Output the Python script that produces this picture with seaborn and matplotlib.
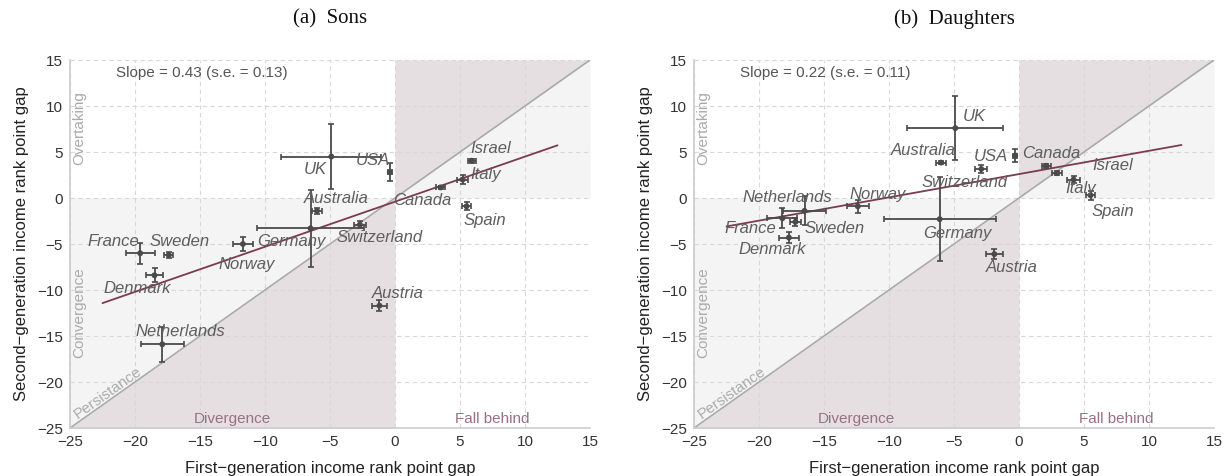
import numpy as np
import pandas as pd
import matplotlib
matplotlib.use("Agg")
import matplotlib.pyplot as plt
import seaborn as sns

# ---------------- data ----------------
countries = ["UK", "USA", "Israel", "Italy", "Canada", "Spain", "Australia",
             "Germany", "Switzerland", "Austria", "France", "Sweden",
             "Denmark", "Norway", "Netherlands"]

sons_x    = [-4.9, -0.4, 5.9, 5.2, 3.5, 5.5, -6.0, -6.5, -2.7, -1.2, -19.6, -17.4, -18.5, -11.7, -17.9]
sons_y    = [4.5, 2.8, 4.05, 2.0, 1.15, -0.9, -1.4, -3.3, -2.9, -11.7, -6.0, -6.2, -8.4, -5.0, -15.9]
sons_xerr = [3.85, 0.15, 0.3, 0.45, 0.35, 0.38, 0.35, 4.1, 0.45, 0.58, 1.1, 0.35, 0.67, 0.8, 1.64]
sons_yerr = [3.5, 1.0, 0.2, 0.5, 0.2, 0.45, 0.3, 4.2, 0.4, 0.6, 1.14, 0.3, 0.76, 0.8, 1.9]

dau_x    = [-4.9, -0.3, 2.9, 4.2, 2.1, 5.5, -6.0, -6.1, -2.9, -1.9, -18.2, -17.2, -17.7, -12.4, -16.5]
dau_y    = [7.6, 4.6, 2.7, 2.0, 3.5, 0.3, 3.85, -2.3, 3.15, -6.1, -2.2, -2.6, -4.3, -0.9, -1.4]
dau_xerr = [3.7, 0.15, 0.4, 0.47, 0.35, 0.32, 0.4, 4.3, 0.47, 0.64, 1.15, 0.4, 0.8, 0.85, 1.67]
dau_yerr = [3.5, 0.7, 0.2, 0.4, 0.2, 0.5, 0.2, 4.6, 0.45, 0.55, 1.1, 0.4, 0.63, 0.73, 1.58]

# fitted lines (intercept, slope) as drawn, over x range
sons_fit = (-0.4, 0.49)
dau_fit = (2.6, 0.253)
fit_range = (-22.5, 12.5)

slope_texts = ["Slope = 0.43 (s.e. = 0.13)", "Slope = 0.22 (s.e. = 0.11)"]
titles = ["(a)  Sons", "(b)  Daughters"]
x_ticks = [-25, -20, -15, -10, -5, 0, 5, 10, 15]
y_ticks = [-25, -20, -15, -10, -5, 0, 5, 10, 15]

# label positions (layout)
sons_lab = {"UK": (-6.15, 3.1), "USA": (-1.7, 4.05), "Israel": (7.4, 5.4),
            "Italy": (7.0, 2.5), "Canada": (2.1, -0.3), "Spain": (6.9, -2.45),
            "Australia": (-4.55, -0.1), "Germany": (-8.0, -4.75),
            "Switzerland": (-1.15, -4.25), "Austria": (0.2, -10.4),
            "France": (-21.7, -4.75), "Sweden": (-16.6, -4.75),
            "Denmark": (-19.8, -9.8), "Norway": (-11.4, -7.2),
            "Netherlands": (-16.5, -14.5)}
dau_lab = {"UK": (-3.45, 8.85), "USA": (-2.2, 4.55), "Israel": (7.2, 3.5),
           "Italy": (4.75, 1.05), "Canada": (2.5, 4.85), "Spain": (7.2, -1.5),
           "Australia": (-7.35, 5.2), "Germany": (-4.75, -3.85),
           "Switzerland": (-4.15, 1.65), "Austria": (-0.55, -7.6),
           "France": (-20.7, -3.3), "Sweden": (-14.2, -3.3),
           "Denmark": (-19.0, -5.65), "Norway": (-10.9, 0.35),
           "Netherlands": (-17.8, 0.0)}

# ---------------- style ----------------
sns.set_style("white")
plt.rcParams["font.family"] = ["Liberation Sans", "DejaVu Sans"]

LIGHT = "#f4f4f4"
MAUVE = "#e6dfe1"
REGION_GRAY = "#aaaaaa"
REGION_MAUVE = "#9b6f82"
PT = "#4a4a4a"
LAB = "#5e5e5e"
FIT = "#7b3b50"

fig = plt.figure(figsize=(12.24, 4.76), dpi=100)
positions = [[70 / 1224, 48 / 476, 520 / 1224, 368 / 476],
             [694 / 1224, 48 / 476, 520 / 1224, 368 / 476]]

panels = [(sons_x, sons_y, sons_xerr, sons_yerr, sons_fit, sons_lab),
          (dau_x, dau_y, dau_xerr, dau_yerr, dau_fit, dau_lab)]

for i, (xs, ys, xe, ye, fit, labs) in enumerate(panels):
    ax = fig.add_axes(positions[i])
    lo, hi = x_ticks[0], x_ticks[-1]
    ax.set_xlim(lo, hi)
    ax.set_ylim(y_ticks[0], y_ticks[-1])

    # shaded regions
    xl = np.array([lo, 0.0])
    xr = np.array([0.0, hi])
    ax.fill_between(xl, lo, xl, color=MAUVE, lw=0, zorder=0.1)
    ax.fill_between(xl, xl, 0, color=LIGHT, lw=0, zorder=0.1)
    ax.fill_between(xr, 0, xr, color=LIGHT, lw=0, zorder=0.1)
    ax.fill_between(xr, xr, hi, color=MAUVE, lw=0, zorder=0.1)

    # 45-degree line
    ax.plot([lo, hi], [lo, hi], color="#aaaaaa", lw=1.2, zorder=1)

    # grid
    ax.set_axisbelow(True)
    ax.set_xticks(x_ticks)
    ax.set_yticks(y_ticks)
    ax.grid(True, ls=(0, (4, 3)), color="#d8d8d8", lw=0.8)

    # fitted line
    fx = np.array(fit_range)
    fdf = pd.DataFrame({"x": fx, "y": fit[0] + fit[1] * fx})
    sns.lineplot(data=fdf, x="x", y="y", ax=ax, color=FIT, lw=1.3, zorder=3)

    # error bars and points
    ax.errorbar(xs, ys, xerr=xe, yerr=ye, fmt="none", ecolor=PT,
                elinewidth=1.3, capsize=2.5, capthick=1.2, zorder=4)
    df = pd.DataFrame({"x": xs, "y": ys, "country": countries})
    sns.scatterplot(data=df, x="x", y="y", ax=ax, color=PT, s=18,
                    edgecolor="none", zorder=5)

    for c in countries:
        px, py = labs[c]
        ax.text(px, py, c, ha="center", va="center", fontsize=12,
                style="italic", color=LAB, zorder=6)

    # region labels
    ax.text(-24.3, 7.6, "Overtaking", rotation=90, ha="center", va="center",
            fontsize=11, color=REGION_GRAY)
    ax.text(-24.3, -12.5, "Convergence", rotation=90, ha="center", va="center",
            fontsize=11, color=REGION_GRAY)
    ang = ax.transData.transform_angles(np.array([45.0]),
                                        np.array([[-22.0, -22.0]]))[0]
    ax.text(-24.3, -24.3, "Persistance", rotation=ang, ha="left", va="bottom",
            fontsize=11, color=REGION_GRAY, rotation_mode="anchor")
    ax.text(-12.5, -24.0, "Divergence", ha="center", va="center",
            fontsize=11, color=REGION_MAUVE)
    ax.text(7.5, -24.0, "Fall behind", ha="center", va="center",
            fontsize=11, color=REGION_MAUVE)

    ax.text(-21.5, 13.55, slope_texts[i], ha="left", va="center",
            fontsize=11, color="#555555")

    # axes styling
    for s in ["top", "right"]:
        ax.spines[s].set_visible(False)
    for s in ["left", "bottom"]:
        ax.spines[s].set_color("#cccccc")
        ax.spines[s].set_linewidth(1.2)
    ax.tick_params(axis="both", length=3, color="#cccccc", labelsize=11,
                   labelcolor="#333333", pad=2)
    ax.set_xlabel("First\u2212generation income rank point gap", fontsize=12,
                  color="#222222", labelpad=9)
    ax.set_ylabel("Second\u2212generation income rank point gap", fontsize=12,
                  color="#222222", labelpad=6)
    ax.set_title(titles[i], fontsize=15, family=["Liberation Serif", "DejaVu Serif"],
                 color="#111111", pad=26)

fig.savefig("out.png", dpi=100)
